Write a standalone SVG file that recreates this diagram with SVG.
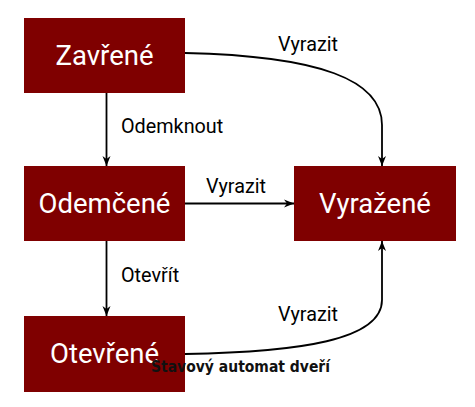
<svg xmlns="http://www.w3.org/2000/svg" width="475" height="407" viewBox="0 0 475 407">
<defs>
<style>
.box{fill:#7f0000}
.nt{font-family:Roboto,"Liberation Sans",sans-serif;font-size:27.5px;fill:#fff;text-anchor:middle}
.lb{font-family:Roboto,"Liberation Sans",sans-serif;font-size:19.8px;fill:#000}
.cn{fill:none;stroke:#000;stroke-width:1.8}
.cap{font-family:"DejaVu Sans","Liberation Sans",sans-serif;font-weight:bold;font-size:16px;fill:#111}
</style>
<marker id="ah" viewBox="0 0 10 10" refX="10" refY="5" markerWidth="10" markerHeight="10" markerUnits="userSpaceOnUse" orient="auto">
<path d="M0,1 L10,5 L0,9 L3,5 z" fill="#000"/>
</marker>
</defs>
<rect width="475" height="407" fill="#fff"/>
<g id="connectors">
<path class="cn" d="M106.5,93 L106.5,166" marker-end="url(#ah)"/>
<path class="cn" d="M106.5,241 L106.5,316" marker-end="url(#ah)"/>
<path class="cn" d="M185,203.5 L294,203.5" marker-end="url(#ah)"/>
<path class="cn" d="M185,53 C320,56 382,80 382,125 L382,166" marker-end="url(#ah)"/>
<path class="cn" d="M185,354 C300,352 382,340 382,300 L382,241" marker-end="url(#ah)"/>
<text class="lb" x="121" y="133">Odemknout</text>
<text class="lb" x="278" y="51">Vyrazit</text>
<text class="lb" x="206" y="193">Vyrazit</text>
<text class="lb" x="121" y="282">Otevřít</text>
<text class="lb" x="278" y="321">Vyrazit</text>
</g>
<g id="zavrene">
<rect class="box" x="24" y="18" width="161" height="75"/>
<text class="nt" x="104.5" y="65">Zavřené</text>
</g>
<g id="odemcene">
<rect class="box" x="24" y="166" width="161" height="75"/>
<text class="nt" x="104.5" y="213">Odemčené</text>
</g>
<g id="vyrazene">
<rect class="box" x="294" y="166" width="162" height="75"/>
<text class="nt" x="375" y="213">Vyražené</text>
</g>
<g id="otevrene">
<rect class="box" x="24" y="316" width="161" height="76"/>
<text class="nt" x="104.5" y="363">Otevřené</text>
</g>
<text class="cap" x="151" y="372" textLength="179" lengthAdjust="spacingAndGlyphs">Stavový automat dveří</text>
</svg>
